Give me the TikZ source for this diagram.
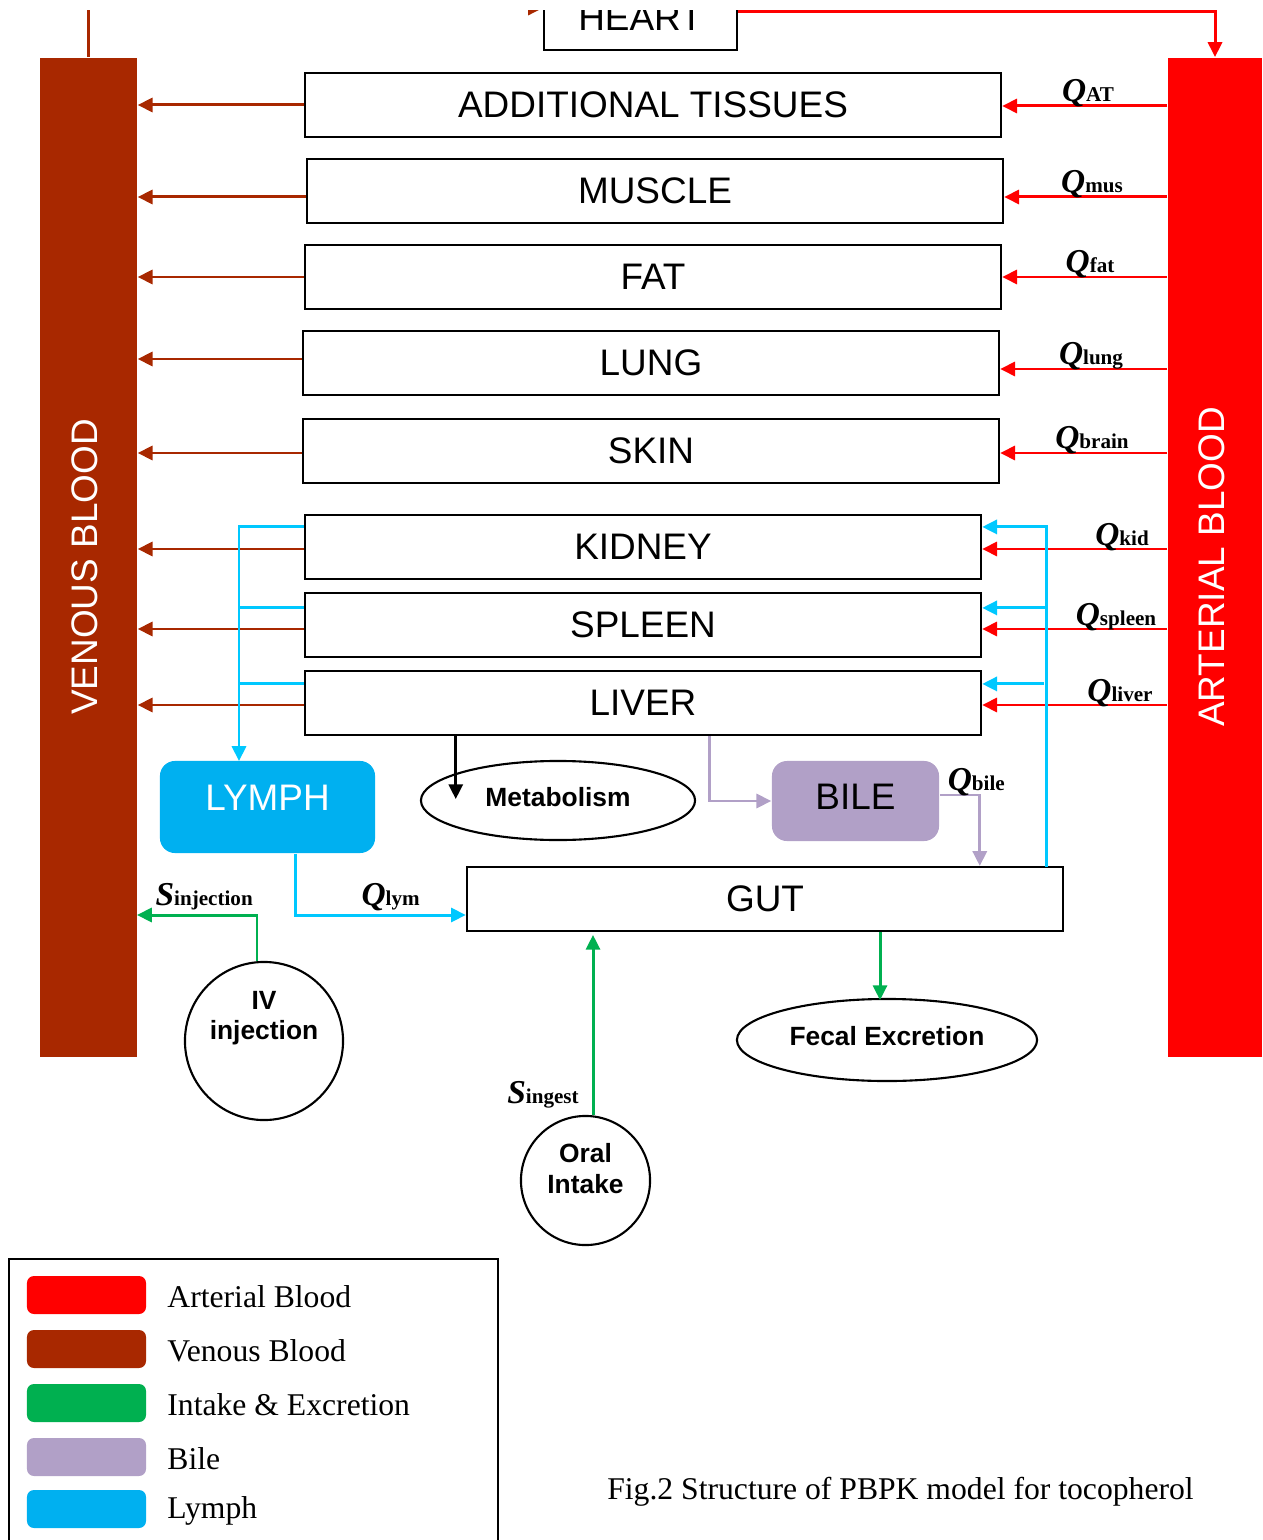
\documentclass[tikz,border=0pt]{standalone}
\usepackage{fontspec}
\setmainfont{Liberation Serif}
\setsansfont{Liberation Sans}
\usepackage{tikz}
\usetikzlibrary{arrows.meta, positioning, calc, shapes.geometric}

\definecolor{artred}{RGB}{255,0,0}
\definecolor{venbrown}{RGB}{168,40,0}
\definecolor{intgreen}{RGB}{0,176,80}
\definecolor{bilepurple}{RGB}{177,160,199}
\definecolor{lymphblue}{RGB}{0,176,240}
\definecolor{lymphline}{RGB}{0,200,255}

\newcommand{\flow}[2]{{\fontsize{9.5}{11}\selectfont\bfseries\itshape #1}{\fontsize{6}{7}\selectfont\bfseries #2}}

\tikzset{
  bigfont/.style={font=\sffamily\fontsize{10.5}{12}\selectfont},
  organ/.style={draw, line width=0.6pt, minimum height=0.64cm, inner sep=0pt, bigfont},
  pool/.style={minimum width=0.97cm, minimum height=9.99cm, inner sep=0pt},
  flowtip/.style={-{Triangle[length=4.2pt, width=4pt]}},
  artflow/.style={flowtip, artred, line width=0.85pt},
  venflow/.style={flowtip, venbrown, line width=0.85pt},
  lymline/.style={lymphline, line width=0.85pt},
  lymflow/.style={lymline, flowtip},
  bileflow/.style={flowtip, bilepurple, line width=0.85pt},
  greenflow/.style={flowtip, intgreen, line width=0.85pt},
  flowlabel/.style={anchor=base, inner sep=0pt, text=black},
  sinknode/.style={draw, line width=0.6pt, inner sep=0pt},
  boldfont/.style={font=\sffamily\bfseries\fontsize{7.5}{8.8}\selectfont, align=center},
  swatch/.style={rounded corners=2pt, minimum width=1.19cm, minimum height=0.38cm, inner sep=0pt},
  legtext/.style={font=\fontsize{9}{10}\selectfont, inner sep=0pt},
}

\begin{document}
\begin{tikzpicture}[x=0.01cm, y=-0.01cm]
\useasboundingbox (0,0) rectangle (1262,1540);
\begin{scope}
\clip (0,11) rectangle (1262,1540);

% blood pools
\node[pool, fill=venbrown] (ven) at (88.5,557.5) {};
\node[pool, fill=artred, minimum width=0.94cm] (art) at (1215,557.5) {};
\node[rotate=90, white, bigfont] at (85,567) {VENOUS BLOOD};
\node[rotate=90, white, bigfont] at (1212,567) {ARTERIAL BLOOD};

% heart
\node[organ, minimum width=1.93cm] (heart) at (640.5,18) {HEART};
\draw[artflow] ($(heart.east)+(0,-6)$) -| (art.north);
\draw[venflow] (ven.north) |- ($(heart.west)+(0,-10)$);

% organs
\node[organ, minimum width=6.96cm] (at) at (653,105) {ADDITIONAL TISSUES};
\node[organ, minimum width=6.96cm] (mus) at (655,191) {MUSCLE};
\node[organ, minimum width=6.96cm] (fat) at (653,277) {FAT};
\node[organ, minimum width=6.96cm] (lung) at (651,363) {LUNG};
\node[organ, minimum width=6.96cm] (skin) at (651,451) {SKIN};
\node[organ, minimum width=6.76cm] (kid) at (643,547) {KIDNEY};
\node[organ, minimum width=6.76cm] (spl) at (643,625) {SPLEEN};
\node[organ, minimum width=6.76cm] (liv) at (643,703) {LIVER};

\foreach \o/\dv/\da/\qx/\qs in {at/0/1/1088/AT, mus/6/6/1092/mus, fat/0/0/1090/fat,
    lung/-4/6/1091/lung, skin/2/2/1092/brain, kid/2/2/1122/kid, spl/4/4/1116/spleen,
    liv/2/2/1120/liver}{
  \coordinate (vs) at ($(\o.west)+(0,\dv)$);
  \draw[venflow] (vs) -- (vs -| ven.east);
  \coordinate (as) at ($(\o.east)+(0,\da)$);
  \coordinate (lx) at (\qx,0);
  \draw[artflow] (as -| art.west) -- (as);
  \path (as -| lx) ++(0,-4) node[flowlabel] {\flow{Q}{\qs}};
}

% lymph
\node[fill=lymphblue, rounded corners=0.15cm, minimum width=2.15cm, minimum height=0.92cm,
  text=white, text depth=5.1pt, bigfont] (lymph) at (267.5,807) {LYMPH};
\coordinate (lyin) at (239,761);
\draw[lymflow] ($(kid.north west)+(0,13)$) -| (lyin);
\draw[lymline] ($(spl.north west)+(0,16)$) -- ++(-66,0);
\draw[lymline] ($(liv.north west)+(0,14)$) -- ++(-66,0);

% metabolism, bile, gut
\node[sinknode, ellipse, minimum width=2.74cm, minimum height=0.79cm, text depth=2pt, boldfont] (metab) at (558,800.5) {Metabolism};
\node[fill=bilepurple, rounded corners=0.15cm, minimum width=1.67cm, minimum height=0.8cm,
  text depth=2.3pt, bigfont] (bile) at (855.5,801) {BILE};
\node[organ, minimum width=5.96cm] (gut) at (765,899) {GUT};

\coordinate (lyup) at (1046,867);
\draw[lymflow] (lyup) |- ($(kid.north east)+(0,13)$);
\draw[lymflow] ($(spl.north east)+(65,16)$) -- ($(spl.north east)+(0,16)$);
\draw[lymflow] ($(liv.north east)+(62,14)$) -- ($(liv.north east)+(0,14)$);

\draw[lymflow] ($(lymph.south)+(27.5,0)$) |- ($(gut.west)+(0,16)$)
  node[pos=0.78, flowlabel, yshift=2.6pt] {\flow{Q}{lym}};

\draw[flowtip, line width=0.85pt] ($(liv.south west)+(152,0)$) -- ++(0,63);
\draw[bileflow] ($(liv.south west)+(406,0)$) |- (bile.west);
\draw[bileflow] ($(bile.east)+(0,-6)$) -| ($(gut.north west)+(514,0)$)
  node[pos=0.5, flowlabel, xshift=-1pt, yshift=1.2pt] {\flow{Q}{bile}};

% intake and excretion
\node[sinknode, circle, minimum size=1.58cm] (iv) at (264,1041) {};
\node[boldfont] at ([yshift=6.5pt]iv.center) {IV\\injection};
\coordinate (injin) at (137,915);
\draw[greenflow] ($(iv.north)+(-7,0)$) |- (injin)
  node[pos=0.72, flowlabel, yshift=2.8pt] {\flow{S}{injection}};

\node[sinknode, circle, minimum size=1.29cm] (oral) at (585.5,1180.5) {};
\node[boldfont] at ([yshift=3.4pt]oral.center) {Oral\\Intake};
\draw[greenflow] ($(oral.north)+(7.5,0)$) -- ++(0,-180);
\node[flowlabel] at (543,1103) {\flow{S}{ingest}};

\node[sinknode, ellipse, minimum width=3.0cm, minimum height=0.82cm, text depth=2.3pt, boldfont] (fecal) at (887,1040) {Fecal Excretion};
\draw[greenflow] ($(gut.south)+(115,0)$) -- ++(0,68);

% legend
\draw[line width=0.7pt] (9,1259) rectangle (498,1560);
\foreach \c/\t/\y [count=\i] in {artred/Arterial Blood/1295, venbrown/Venous Blood/1349,
    intgreen/Intake \& Excretion/1403, bilepurple/Bile/1457, lymphblue/Lymph/1509}{
  \node[swatch, fill=\c] (sw\i) at (86.5,\y) {};
  \node[legtext, right=0.2cm of sw\i, yshift=-0.6pt] {\t};
}

\node[font=\fontsize{9}{10}\selectfont] (caption) at (900.5,1492) {Fig.2 Structure of PBPK model for tocopherol};

\end{scope}
\end{tikzpicture}
\end{document}
